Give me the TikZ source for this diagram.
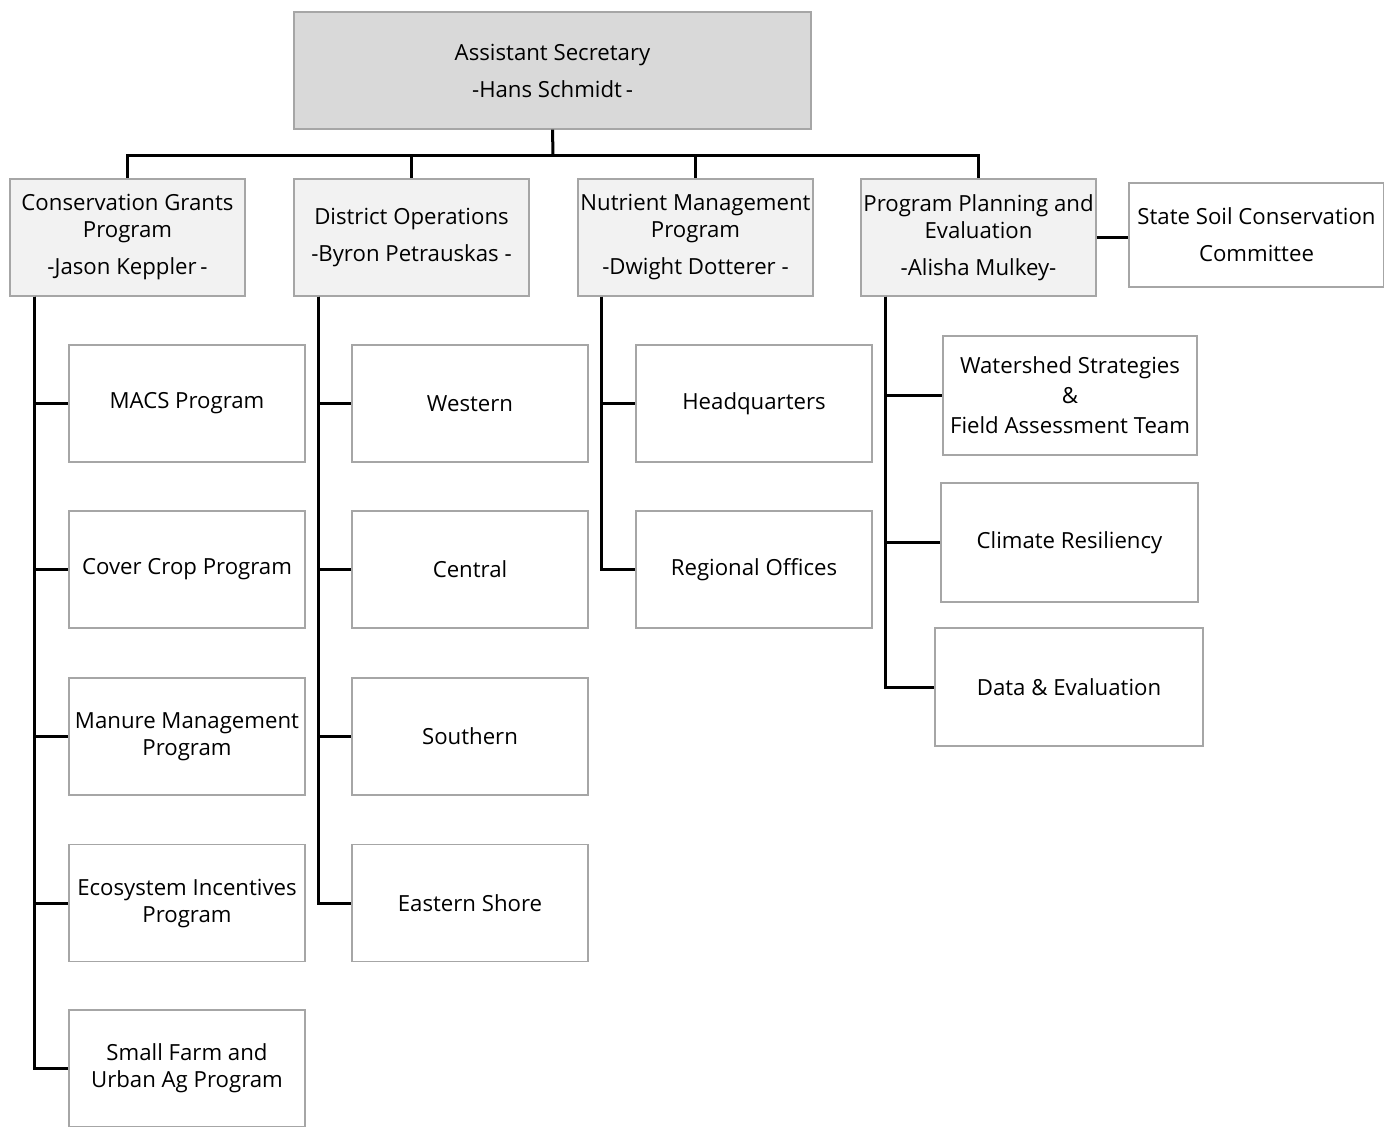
\documentclass[tikz,border=0pt]{standalone}
\usepackage{fontspec}
\setmainfont{Open Sans}
\definecolor{headfill}{HTML}{D9D9D9}
\definecolor{unitfill}{HTML}{F2F2F2}
\definecolor{boxline}{HTML}{A6A6A6}
\tikzset{
  orgbox/.style={draw=boxline, line width=0.6pt, inner sep=0pt, align=center,
    font=\fontsize{11.1}{13.5}\selectfont},
  headbox/.style={orgbox, fill=headfill, minimum width=258.5pt, minimum height=58.5pt},
  unitbox/.style={orgbox, fill=unitfill, minimum width=117.5pt, minimum height=58.5pt},
  subbox/.style={orgbox, fill=white, minimum width=118pt, minimum height=58.5pt},
  conn/.style={line width=1.5pt}
}
\begin{document}
\begin{tikzpicture}[x=0.5pt,y=-0.5pt]
    \useasboundingbox (0,0) rectangle (1384,1126);
    \clip (0,0) rectangle (1384,1126);

    \node[headbox] (AsSec) at (552.5,70.5) {Assistant Secretary\\[5pt]-Hans Schmidt\,-};

    \node[unitbox] (CoGr) at (127.5,237.5) {Conservation Grants\\Program\\[5pt]-Jason Keppler\,-};
    \node[unitbox] (DiOp) at (411.5,237.5) {District Operations\\[5pt]-Byron Petrauskas -};
    \node[unitbox] (NuMa) at (695.5,237.5) {Nutrient Management\\Program\\[5pt]-Dwight Dotterer -};
    \node[unitbox] (PrPl) at (978.5,237.5) {Program Planning and\\Evaluation\\[5pt]-Alisha Mulkey-};
    \node[orgbox, minimum width=127.5pt, minimum height=52pt] (SSCC) at (1256.5,235)
      {State Soil Conservation\\[5pt]Committee};

    % Conservation Grants
    \node[subbox] (CoMacs) at (187,403.5) {MACS Program};
    \node[subbox] (CoCover) at (187,569.5) {Cover Crop Program};
    \node[subbox] (CoManure) at (187,736.5) {Manure Management\\Program};
    \node[subbox] (CoEco) at (187,903) {Ecosystem Incentives\\Program};
    \node[subbox] (CoSmall) at (187,1068.5) {Small Farm and\\Urban Ag Program};

    % District Operations
    \node[subbox] (DiWest) at (470,403.5) {Western};
    \node[subbox] (DiCent) at (470,569.5) {Central};
    \node[subbox] (DiSouth) at (470,736.5) {Southern};
    \node[subbox] (DiEast) at (470,903) {Eastern Shore};

    % Nutrient Management
    \node[subbox] (NuHq) at (754,403.5) {Headquarters};
    \node[subbox] (NuReg) at (754,569.5) {Regional Offices};

    % Program Planning
    \node[subbox, minimum width=127pt, minimum height=59.5pt, font=\fontsize{11.1}{15}\selectfont]
      (PrWat) at (1070,395.5) {Watershed Strategies\\\&\\Field Assessment Team};
    \node[subbox, minimum width=128.5pt, minimum height=59.5pt] (PrClim) at (1069.5,542.5) {Climate Resiliency};
    \node[subbox, minimum width=134pt, minimum height=59pt] (PrData) at (1069,687) {Data \& Evaluation};

    \coordinate (Bus) at (553,155);
    \draw[conn] (AsSec.south) -- (Bus);
    \foreach \u in {CoGr,DiOp,NuMa,PrPl}
      \draw[conn] (Bus) -| (\u.north);
    \draw[conn] (PrPl.east) -- (PrPl.east -| SSCC.west);

    \foreach \c in {CoMacs,CoCover,CoManure,CoEco,CoSmall}
      \draw[conn] ([xshift=12.5pt]CoGr.south west) |- (\c.west);
    \foreach \c in {DiWest,DiCent,DiSouth,DiEast}
      \draw[conn] ([xshift=12.5pt]DiOp.south west) |- (\c.west);
    \foreach \c in {NuHq,NuReg}
      \draw[conn] ([xshift=12pt]NuMa.south west) |- (\c.west);
    \foreach \c in {PrWat,PrClim,PrData}
      \draw[conn] ([xshift=12.5pt]PrPl.south west) |- (\c.west);
  \end{tikzpicture}
\end{document}
